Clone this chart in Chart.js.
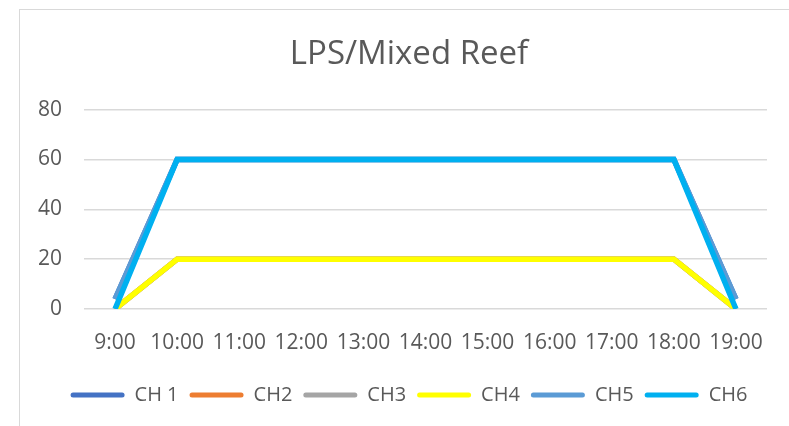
<!DOCTYPE html>
<html>
<head>
<meta charset="utf-8">
<script src="https://cdn.jsdelivr.net/npm/chart.js@4/dist/chart.umd.min.js"></script>
<style>
  html, body { margin: 0; padding: 0; background: #fff; overflow: hidden; }
  #wrap {
    position: absolute; left: 19px; top: 9px; width: 770px; height: 417px;
    border-left: 1px solid #d9d9d9; border-top: 1px solid #d9d9d9;
  }
</style>
</head>
<body>
<div id="wrap"><canvas id="reefChart"></canvas></div>
<script>
const horas = ["9:00", "10:00", "11:00", "12:00", "13:00", "14:00", "15:00", "16:00", "17:00", "18:00", "19:00"];
const ch1 = [4, 60, 60, 60, 60, 60, 60, 60, 60, 60, 4];
const ch2 = [0, 20, 20, 20, 20, 20, 20, 20, 20, 20, 0];
const ch3 = [0, 20, 20, 20, 20, 20, 20, 20, 20, 20, 0];
const ch4 = [0, 20, 20, 20, 20, 20, 20, 20, 20, 20, 0];
const ch5 = [4, 60, 60, 60, 60, 60, 60, 60, 60, 60, 4];
const ch6 = [0, 60, 60, 60, 60, 60, 60, 60, 60, 60, 0];
const nombres = ["CH 1", "CH2", "CH3", "CH4", "CH5", "CH6"];
const colores = ["#4472C4", "#ED7D31", "#A5A5A5", "#FFFF00", "#5B9BD5", "#00B0F0"];

const series = [ch1, ch2, ch3, ch4, ch5, ch6];
const fuente = "'Open Sans', sans-serif";
const gris = "#595959";

const datasets = series.map((data, i) => ({
  label: nombres[i],
  data: data,
  borderColor: colores[i],
  backgroundColor: colores[i],
  borderWidth: 5.5,
  pointRadius: 0,
  tension: 0,
  order: series.length - i, // ultimo canal encima, como en Excel
}));

new Chart(document.getElementById("reefChart"), {
  type: "line",
  data: { labels: horas, datasets: datasets },
  options: {
    responsive: true,
    maintainAspectRatio: false,
    animation: false,
    layout: { padding: { left: 31, right: 23, top: 0, bottom: 12 } },
    plugins: {
      title: {
        display: true,
        text: "LPS/Mixed Reef",
        color: gris,
        font: { family: fuente, size: 33, weight: "normal" },
        padding: { top: 25, bottom: 35 },
      },
      legend: {
        position: "bottom",
        labels: {
          color: gris,
          font: { family: fuente, size: 20 },
          boxWidth: 54,
          boxHeight: 5,
          padding: 11,
          useBorderRadius: true,
          borderRadius: 2.5,
          sort: (a, b) => a.datasetIndex - b.datasetIndex,
          generateLabels: (chart) =>
            Chart.defaults.plugins.legend.labels.generateLabels(chart).map((it) => ({ ...it, lineWidth: 0 })),
        },
      },
      tooltip: { enabled: false },
    },
    scales: {
      x: {
        offset: true,
        grid: { display: false, drawTicks: false },
        border: { display: false },
        ticks: { color: gris, font: { family: fuente, size: 21 }, padding: 21, maxRotation: 0, autoSkip: false },
        afterFit: (scale) => { scale.height = 65; },
      },
      y: {
        min: 0,
        max: 80,
        grid: { color: "#d9d9d9", lineWidth: 1.5, drawTicks: false },
        border: { display: false },
        // mirror evita el recorte de etiquetas; padding negativo las saca a la izquierda
        ticks: { stepSize: 20, color: gris, font: { family: fuente, size: 21 }, mirror: true, crossAlign: "far", padding: -46 },
        afterFit: (scale) => { scale.width = 33; },
      },
    },
  },
});
</script>
</body>
</html>
